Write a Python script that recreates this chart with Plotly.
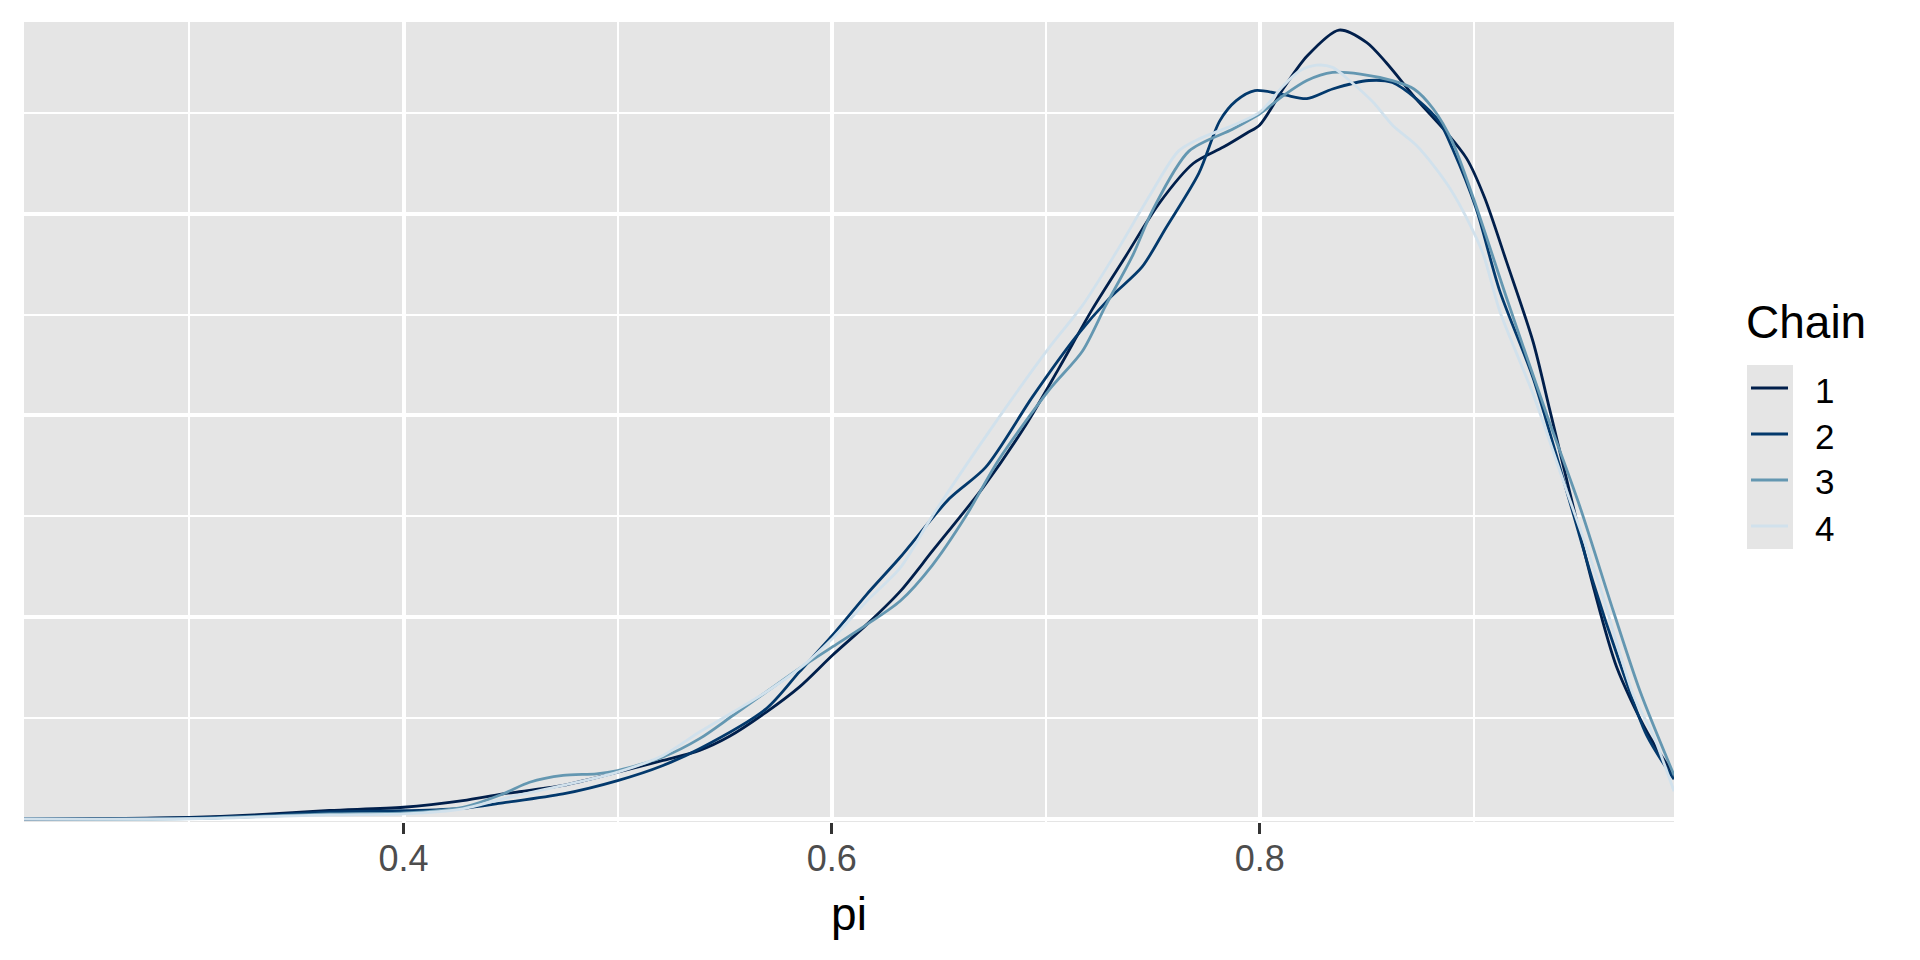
import plotly.graph_objects as go

# density of pi for each chain
chain1_x = [0.2227, 0.26, 0.30, 0.33, 0.3654, 0.40, 0.4277, 0.4464, 0.4745, 0.50, 0.5212, 0.5383,
            0.5523, 0.5695, 0.585, 0.6005, 0.6162, 0.632, 0.647, 0.6705, 0.6907, 0.706, 0.7218,
            0.7373, 0.7529, 0.769, 0.783, 0.794, 0.80, 0.811, 0.822, 0.837, 0.85, 0.859, 0.873,
            0.887, 0.8966, 0.905, 0.9153, 0.9277, 0.9355, 0.9464, 0.9558, 0.9667, 0.9807, 0.9935]
chain1_y = [0.0, 0.002, 0.008, 0.02, 0.042, 0.058, 0.091, 0.124, 0.166, 0.232, 0.29, 0.34,
            0.41, 0.53, 0.655, 0.813, 0.962, 1.128, 1.327, 1.64, 1.953, 2.231, 2.527,
            2.788, 3.05, 3.25, 3.33, 3.40, 3.44, 3.62, 3.78, 3.91, 3.848, 3.749, 3.569,
            3.405, 3.274, 3.08, 2.761, 2.364, 2.026, 1.549, 1.151, 0.753, 0.435, 0.217]

chain2_x = [0.2227, 0.26, 0.30, 0.33, 0.3654, 0.40, 0.4277, 0.4464, 0.4745, 0.50, 0.5212, 0.5383,
            0.5695, 0.585, 0.6005, 0.6162, 0.6316, 0.655, 0.672, 0.6938, 0.714, 0.7296, 0.745,
            0.756, 0.7715, 0.7813, 0.789, 0.7977, 0.811, 0.822, 0.834, 0.851, 0.862, 0.873,
            0.884, 0.89, 0.901, 0.912, 0.9277, 0.9433, 0.9558, 0.9682, 0.9807, 0.9935]
chain2_y = [0.0, 0.001, 0.005, 0.015, 0.035, 0.041, 0.053, 0.08, 0.124, 0.19, 0.265, 0.348,
            0.547, 0.73, 0.912, 1.111, 1.292, 1.588, 1.744, 2.092, 2.388, 2.579, 2.736,
            2.927, 3.2, 3.46, 3.56, 3.61, 3.59, 3.57, 3.618, 3.66, 3.65, 3.57,
            3.454, 3.323, 3.028, 2.62, 2.185, 1.628, 1.171, 0.773, 0.415, 0.197]

chain3_x = [0.2227, 0.30, 0.3654, 0.40, 0.4277, 0.4464, 0.4589, 0.4745, 0.4901, 0.50, 0.5212,
            0.5383, 0.554, 0.5695, 0.585, 0.6005, 0.6162, 0.632, 0.647, 0.6627, 0.678, 0.7016,
            0.7171, 0.728, 0.7404, 0.7498, 0.7669, 0.7875, 0.80, 0.811, 0.822, 0.834, 0.847,
            0.862, 0.872, 0.881, 0.89, 0.90, 0.9153, 0.934, 0.9495, 0.9651, 0.9776, 0.9935]
chain3_y = [0.0, 0.002, 0.025, 0.03, 0.058, 0.124, 0.182, 0.216, 0.224, 0.24, 0.307,
            0.398, 0.514, 0.63, 0.746, 0.854, 0.962, 1.08, 1.257, 1.501, 1.779, 2.127,
            2.318, 2.544, 2.788, 3.014, 3.31, 3.42, 3.495, 3.585, 3.66, 3.70, 3.692,
            3.659, 3.618, 3.52, 3.356, 3.07, 2.582, 2.006, 1.549, 1.032, 0.634, 0.217]

chain4_x = [0.2227, 0.30, 0.3654, 0.40, 0.4277, 0.4464, 0.4745, 0.50, 0.5212, 0.5383, 0.554,
            0.5695, 0.585, 0.6005, 0.6162, 0.632, 0.647, 0.678, 0.7016, 0.7171, 0.7327, 0.7486,
            0.762, 0.772, 0.7875, 0.80, 0.811, 0.8187, 0.8265, 0.834, 0.842, 0.853, 0.862,
            0.873, 0.881, 0.8888, 0.8966, 0.9044, 0.912, 0.9277, 0.9433, 0.9589, 0.9745,
            0.9838, 0.9935]
chain4_y = [0.0, 0.001, 0.02, 0.025, 0.05, 0.1, 0.166, 0.232, 0.315, 0.431, 0.53,
            0.63, 0.746, 0.896, 1.078, 1.244, 1.501, 1.988, 2.336, 2.544, 2.805, 3.09,
            3.31, 3.372, 3.438, 3.503, 3.634, 3.708, 3.736, 3.725, 3.659, 3.552, 3.438,
            3.34, 3.241, 3.126, 2.979, 2.798, 2.52, 2.105, 1.628, 1.151, 0.614,
            0.415, 0.137]

chain_names = ["1", "2", "3", "4"]
chain_colors = ["#011f4b", "#03396c", "#6497b1", "#d1e1ec"]
xs = [chain1_x, chain2_x, chain3_x, chain4_x]
ys = [chain1_y, chain2_y, chain3_y, chain4_y]

tick_vals = [0.4, 0.6, 0.8]
tick_text = ["0.4", "0.6", "0.8"]

FONT = "Liberation Sans, Arial, sans-serif"
PANEL = "#e5e5e5"

fig = go.Figure()
for name, color, x, y in zip(chain_names, chain_colors, xs, ys):
    fig.add_trace(go.Scatter(x=x, y=y, mode="lines", name=name, showlegend=False,
                             line=dict(color=color, width=2.8, shape="spline", smoothing=0.8)))

# ggplot-style legend: grey key box, short coloured lines, labels to the right
fig.add_shape(type="rect", xref="paper", yref="paper",
              x0=1.04424, x1=1.07212, y0=0.34125, y1=0.57125,
              fillcolor=PANEL, line_width=0, layer="below")
fig.add_annotation(text="Chain", xref="paper", yref="paper", x=1.0425, y=0.625,
                   xanchor="left", yanchor="middle", showarrow=False,
                   font=dict(size=46, color="black"))
key_top = 0.5425
key_step = 0.0575
for i, (name, color) in enumerate(zip(chain_names, chain_colors)):
    ky = key_top - i * key_step
    fig.add_shape(type="line", xref="paper", yref="paper",
                  x0=1.04667, x1=1.06909, y0=ky, y1=ky,
                  line=dict(color=color, width=3))
    fig.add_annotation(text=name, xref="paper", yref="paper", x=1.0842, y=ky - 0.0025,
                       xanchor="left", yanchor="middle", showarrow=False,
                       font=dict(size=35, color="black"))

# the page adds an 8px body margin, so margins are 8px smaller on the left/top
fig.update_layout(
    width=1920, height=960,
    margin=dict(l=16, r=254, t=14, b=146),
    paper_bgcolor="white", plot_bgcolor=PANEL,
    font=dict(family=FONT, color="black"),
    showlegend=False,
)

fig.update_xaxes(
    range=[0.2227, 0.9935], tickvals=tick_vals, ticktext=tick_text,
    ticks="outside", ticklen=11, tickwidth=3, tickcolor="#333333",
    tickfont=dict(size=36, color="#4d4d4d"), ticklabelstandoff=-6,
    showgrid=True, gridcolor="white", gridwidth=3.5, zeroline=False, showline=False,
    minor=dict(tickvals=[0.3, 0.5, 0.7, 0.9], showgrid=True, gridcolor="white", gridwidth=1.8, ticks=""),
    title=dict(text="pi", font=dict(size=46, color="black"), standoff=19),
)
fig.update_yaxes(
    range=[-0.015, 3.95], tickvals=[0, 1, 2, 3], showticklabels=False, ticks="",
    showgrid=True, gridcolor="white", gridwidth=3.5, zeroline=False, showline=False,
    minor=dict(tickvals=[0.5, 1.5, 2.5, 3.5], showgrid=True, gridcolor="white", gridwidth=1.8, ticks=""),
)

fig.write_html("out.html")
